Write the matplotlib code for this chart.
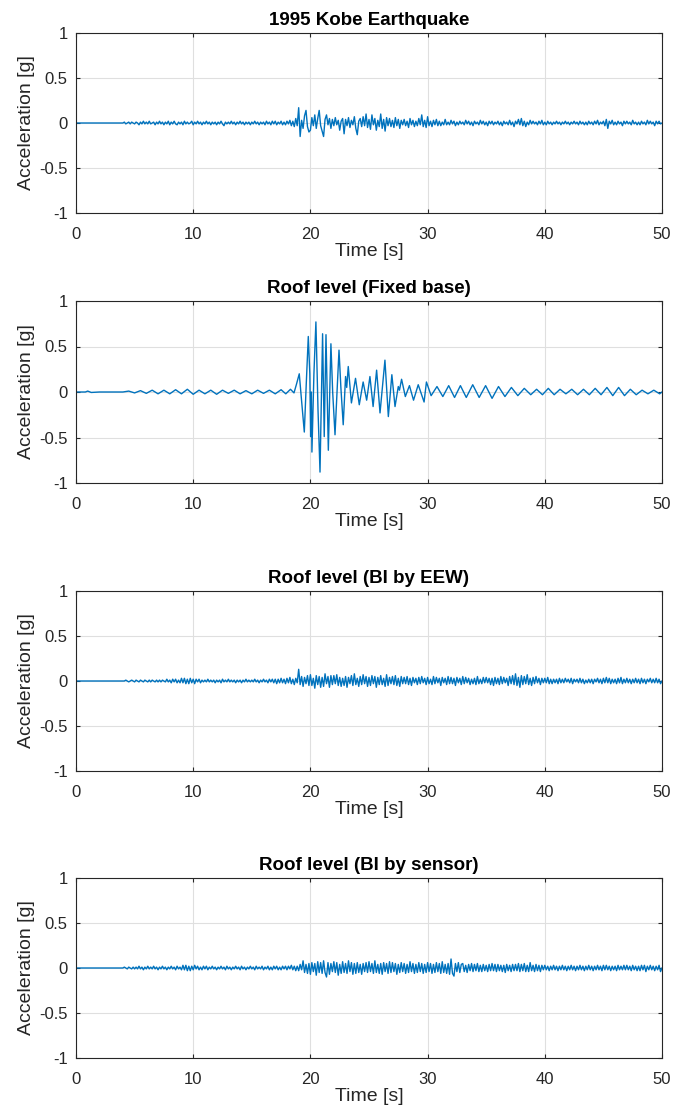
import numpy as np
import matplotlib
matplotlib.use('Agg')
import matplotlib.pyplot as plt

plt.rcParams['font.family'] = ['Liberation Sans', 'DejaVu Sans']

# sampling step (s) for the uniformly sampled records, values in hundredths of g
dt = 0.125

# 1995 Kobe ground motion, one row per second
kobe = [
    0, 0, 0, 0, 0, 0, 0, 0,
    0, 0, 0, 0, 0, 0, 0, 0,
    0, 0, 0, 0, 0, 0, 0, 0,
    0, 0, 0, 0, 0, 0, 0, 0,
    0, 1, -1, 0, 1, -1, 1, 0,
    -1, 1, 0, -2, 1, -1, 2, -1,
    1, -1, 2, -1, 0, 1, -2, 1,
    -1, 2, -1, 1, -2, 1, -1, 2,
    -2, 1, -1, 2, -1, -2, 1, -1,
    1, -2, 2, -1, 1, -1, 0, 2,
    -2, 1, -1, 2, -1, 1, -2, 1,
    -1, 2, -1, 1, -2, 1, -1, 1,
    -2, 1, -1, 2, -1, -3, 1, -1,
    1, -1, 2, -1, 1, -2, 1, -1,
    2, -1, 1, -2, 1, -1, 1, -2,
    1, -1, 2, -1, 1, -2, 1, -1,
    1, -2, 2, -1, 1, -2, 2, -1,
    2, -2, 1, -1, 2, -2, 1, -2,
    2, -1, 3, -3, 2, -4, 5, -3,
    17, -15, 3, -6, 8, 14, -4, -10,
    -8, 6, -3, 9, -6, 5, 14, -3,
    -9, -15, 4, 9, -2, 5, -6, 4,
    -3, 6, -2, 3, -8, 2, 5, -12,
    4, -3, 6, -5, 3, -2, 7, -6,
    -13, 2, 5, -4, 7, -3, 10, -5,
    4, -7, 9, -2, 5, -8, 3, -4,
    10, -6, 4, -9, 6, -3, 5, -4,
    3, -5, 6, -3, 4, -6, 3, -2,
    4, -3, 2, -5, 5, -2, 3, -4,
    2, -3, 5, -2, 9, -4, 3, -5,
    7, -3, 2, -4, 3, -2, 4, -3,
    2, -3, 1, -2, 4, -2, 1, -2,
    3, -1, 2, -3, 1, -2, 2, -1,
    1, -2, 3, -1, 2, -2, 1, -3,
    2, -1, 1, -2, 3, -1, 2, -2,
    1, -3, 2, -1, 2, -2, 1, -1,
    2, -2, 1, -3, 2, -1, 1, -2,
    3, -2, 1, -4, 2, -1, 4, -2,
    5, -3, 2, -4, 1, -2, 3, -1,
    2, -1, 1, -2, 2, -1, 3, -2,
    1, -2, 2, -1, 1, -2, 1, -1,
    2, -1, 1, -2, 1, -1, 2, -1,
    1, -2, 1, -1, 2, -1, 1, -2,
    2, -1, 1, -2, 1, -2, 2, -1,
    1, -2, 2, -1, 3, -2, 1, -1,
    2, -3, 4, -6, 2, -1, 3, -2,
    1, -2, 2, -1, 1, -3, 2, -1,
    2, -1, 1, -2, 3, -1, 1, -2,
    1, -2, 2, -1, 1, -2, 3, -1,
    2, -1, 1, -3, 2, -1, 2, -1,
    0,
]

# roof response, fixed base: turning points (time s, acceleration g)
fixed_t = [0, 0.8, 1.0, 1.3, 2, 4, 4.5, 5.0, 5.5, 6.0, 6.5, 7.0, 7.5, 8.0, 8.5, 9.0,
           9.5, 10.0, 10.5, 11.0, 11.5, 12.0, 12.5, 13.0, 13.5, 14.0, 14.5, 15.0,
           15.5, 16.0, 16.5, 17.0, 17.5, 17.9, 18.3, 18.6, 18.8, 19.05, 19.25, 19.48,
           19.65, 19.82, 19.95, 20.02, 20.08, 20.13, 20.3, 20.47, 20.65, 20.82, 21.04,
           21.18, 21.33, 21.53, 21.75, 21.9, 22.1, 22.44, 22.6, 22.8, 23.0, 23.1,
           23.23, 23.5, 23.85, 24.17, 24.5, 24.8, 25.08, 25.35, 25.65, 25.94, 26.36,
           26.65, 26.95, 27.22, 27.5, 27.6, 27.78, 28.1, 28.45, 28.8, 29.2, 29.7,
           29.9, 30.3, 30.8, 31.3, 31.8, 32.3, 32.8, 33.3, 33.85, 34.4, 34.95, 35.5,
           36.05, 36.6, 37.15, 37.7, 38.25, 38.8, 39.3, 39.8, 40.3, 40.8, 41.3, 41.8,
           42.3, 42.8, 43.3, 43.8, 44.3, 44.8, 45.3, 45.8, 46.3, 46.8, 47.3, 47.8,
           48.3, 48.8, 49.3, 49.8, 50]
fixed_a = [0, 0, 0.01, -0.005, 0, 0, 0.01, -0.01, 0.015, -0.015, 0.02, -0.02, 0.02,
           -0.02, 0.025, -0.02, 0.03, -0.025, 0.02, -0.02, 0.02, -0.025, 0.02, -0.015,
           0.02, -0.02, 0.015, -0.02, 0.02, -0.015, 0.02, -0.02, 0.025, -0.02, 0.03,
           -0.01, 0.08, 0.2, -0.1, -0.44, 0.1, 0.61, 0.2, -0.49, 0.0, -0.66, 0.2,
           0.77, -0.2, -0.88, 0.64, -0.49, 0.63, -0.64, 0.53, 0.0, -0.47, 0.46, 0.05,
           -0.36, 0.17, 0.05, 0.28, -0.12, 0.15, -0.14, 0.11, -0.09, 0.17, -0.16,
           0.24, -0.23, 0.35, -0.27, 0.19, -0.16, 0.06, 0.02, 0.14, -0.05, 0.07,
           -0.09, 0.08, -0.11, 0.11, -0.04, 0.06, -0.05, 0.07, -0.06, 0.07, -0.06,
           0.08, -0.06, 0.07, -0.07, 0.06, -0.05, 0.05, -0.04, 0.04, -0.03, 0.03,
           -0.03, 0.04, -0.03, 0.03, -0.02, 0.03, -0.03, 0.03, -0.03, 0.04, -0.03,
           0.05, -0.04, 0.05, -0.04, 0.03, -0.03, 0.02, -0.02, 0.02, -0.02, 0]

# roof response, base isolation triggered by EEW
eew = [
    0, 0, 0, 0, 0, 0, 0, 0,
    0, 0, 0, 0, 0, 0, 0, 0,
    0, 0, 0, 0, 0, 0, 0, 0,
    0, 0, 0, 0, 0, 0, 0, 0,
    0, 0, 1, 0, -1, 0, 1, 0,
    -1, 1, 0, -1, 1, 0, -1, 1,
    0, -1, 1, -1, 1, 0, -1, 1,
    -1, 1, -1, 1, 0, -1, 2, -1,
    1, -2, 2, -1, 2, -2, 1, -2,
    3, -2, 3, -3, 2, -3, 3, -2,
    2, -3, 2, -1, 2, -2, 1, -1,
    1, -1, 2, -1, 1, -1, 1, -2,
    1, -1, 1, -2, 2, -1, 1, -1,
    2, -1, 1, -1, 1, -2, 1, -1,
    1, -2, 1, -1, 2, -1, 1, -1,
    1, -1, 2, -1, 1, -2, 1, -1,
    2, -1, 1, -2, 2, -1, 2, -2,
    2, -3, 2, -2, 3, -2, 2, -3,
    3, -2, 4, -3, 2, -4, 3, -2,
    13, -4, 5, -6, 4, -3, 6, -5,
    7, -5, 3, -8, 6, -4, 5, -7,
    4, -6, 8, -3, 5, -7, 6, -4,
    6, -3, 7, -5, 4, -6, 3, -5,
    5, -7, 4, -3, 6, -5, 8, -4,
    3, -6, 5, -4, 7, -3, 5, -6,
    4, -5, 6, -3, 5, -7, 4, -4,
    6, -4, 3, -6, 7, -5, 4, -3,
    5, -4, 6, -5, 3, -6, 5, -3,
    4, -3, 5, -4, 3, -5, 4, -2,
    3, -4, 4, -3, 5, -2, 3, -4,
    4, -3, 2, -4, 5, -3, 4, -2,
    3, -5, 4, -2, 3, -4, 5, -3,
    4, -3, 3, -5, 4, -2, 3, -4,
    5, -3, 4, -2, 3, -4, 2, -3,
    3, -4, 5, -3, 2, -3, 4, -2,
    4, -2, 3, -4, 3, -5, 4, -3,
    3, -4, 5, -3, 4, -2, 3, -5,
    5, -3, 6, -4, 8, -5, 4, -7,
    6, -4, 5, -3, 7, -4, 3, -5,
    4, -3, 5, -2, 3, -4, 3, -2,
    3, -2, 4, -3, 2, -3, 2, -2,
    2, -3, 3, -2, 2, -2, 3, -1,
    2, -2, 3, -3, 2, -1, 2, -2,
    3, -2, 2, -3, 1, -2, 2, -2,
    2, -3, 2, -1, 3, -2, 2, -3,
    3, -2, 4, -2, 3, -3, 2, -2,
    2, -3, 3, -2, 4, -3, 2, -2,
    3, -2, 2, -3, 2, -2, 3, -2,
    2, -3, 3, -2, 2, -3, 2, -1,
    3, -2, 2, -2, 3, -2, 2, -3,
    0,
]

# roof response, base isolation triggered by on-site sensor
sensor = [
    0, 0, 0, 0, 0, 0, 0, 0,
    0, 0, 0, 0, 0, 0, 0, 0,
    0, 0, 0, 0, 0, 0, 0, 0,
    0, 0, 0, 0, 0, 0, 0, 0,
    0, 1, 0, -1, 1, 0, -1, 1,
    -1, 1, -1, 2, -1, 1, -2, 1,
    -1, 2, -1, 1, -1, 2, -1, 1,
    -2, 1, -1, 2, -1, 1, -2, 1,
    -1, 2, -1, 1, -2, 2, -1, 1,
    -2, 3, -2, 3, -3, 2, -3, 2,
    -2, 3, -1, 2, -2, 1, -2, 2,
    -1, 2, -2, 1, -1, 2, -1, 1,
    -2, 1, -1, 2, -1, 1, -2, 2,
    -1, 1, -2, 1, -1, 2, -1, 1,
    -2, 2, -1, 1, -2, 1, -1, 2,
    -1, 1, -2, 2, -1, 1, -1, 2,
    -2, 1, -1, 2, -2, 1, -2, 2,
    -1, 2, -2, 1, -2, 2, -1, 2,
    -2, 2, -1, 3, -2, 2, -3, 2,
    -3, 4, -2, 8, -5, 4, -6, 5,
    -7, 6, -4, 5, -8, 7, -5, 6,
    -6, 8, -5, -10, 6, -7, 5, -4,
    7, -5, 6, -8, 4, -6, 7, -5,
    5, -6, 8, -4, 6, -7, 5, -6,
    6, -5, 4, -7, 5, -4, 6, -5,
    7, -4, 5, -6, 8, -5, 4, -6,
    5, -7, 6, -4, 5, -6, 7, -5,
    6, -4, 5, -7, 4, -5, 6, -4,
    5, -6, 4, -5, 7, -4, 5, -6,
    4, -5, 6, -4, 5, -6, 4, -5,
    6, -4, 5, -6, 4, -5, 6, -4,
    5, -6, 7, -5, 4, -6, 5, -7,
    10, -6, -9, 5, -4, 6, -5, 4,
    5, -4, 3, -5, 4, -3, 5, -4,
    4, -3, 5, -4, 3, -4, 4, -3,
    3, -4, 4, -3, 5, -3, 4, -4,
    4, -3, 3, -4, 3, -5, 4, -3,
    3, -4, 4, -3, 4, -3, 5, -4,
    4, -3, 5, -4, 3, -4, 6, -3,
    3, -4, 4, -3, 3, -4, 3, -2,
    3, -2, 2, -3, 2, -2, 3, -2,
    2, -3, 2, -2, 3, -2, 2, -3,
    2, -2, 3, -2, 2, -3, 2, -2,
    3, -2, 2, -3, 2, -2, 3, -2,
    2, -3, 2, -2, 3, -2, 2, -3,
    3, -2, 3, -2, 2, -3, 2, -2,
    2, -3, 3, -2, 2, -2, 3, -2,
    3, -2, 2, -3, 3, -2, 2, -3,
    2, -3, 3, -2, 3, -4, 2, -2,
    3, -2, 2, -3, 2, -2, 3, -4,
    0,
]

titles = ['1995 Kobe Earthquake', 'Roof level (Fixed base)',
          'Roof level (BI by EEW)', 'Roof level (BI by sensor)']

series = [
    (np.arange(len(kobe)) * dt, np.array(kobe) / 100.0),
    (np.array(fixed_t), np.array(fixed_a)),
    (np.arange(len(eew)) * dt, np.array(eew) / 100.0),
    (np.arange(len(sensor)) * dt, np.array(sensor) / 100.0),
]

W, H = 673, 1116
fig = plt.figure(figsize=(W / 100, H / 100), dpi=100)

# axes boxes in pixels: (top, bottom)
boxes = [(33, 213), (301, 483), (591, 771), (878, 1058)]
left, right = 76, 662

for (top, bot), title, (t, a) in zip(boxes, titles, series):
    ax = fig.add_axes([left / W, 1 - bot / H, (right - left) / W, (bot - top) / H])
    ax.plot(t, a, color='#0072BD', lw=1.0)
    ax.set_xlim(0, 50)
    ax.set_ylim(-1, 1)
    ax.set_xticks([0, 10, 20, 30, 40, 50])
    ax.set_yticks([-1, -0.5, 0, 0.5, 1])
    ax.set_yticklabels(['-1', '-0.5', '0', '0.5', '1'])
    ax.grid(True, color='#dfdfdf', lw=0.8)
    ax.set_axisbelow(True)
    ax.tick_params(direction='in', length=3, labelsize=12, colors='#262626',
                   top=True, right=True)
    ax.tick_params(axis='x', pad=10)
    ax.tick_params(axis='y', pad=6)
    for s in ax.spines.values():
        s.set_color('#262626')
        s.set_linewidth(0.8)
    ax.set_title(title, fontsize=13.5, fontweight='bold', color='black', pad=6)
    ax.set_xlabel('Time [s]', fontsize=14, color='#262626', labelpad=1)
    ax.set_ylabel('Acceleration [g]', fontsize=14, color='#262626', labelpad=3)

fig.savefig('out.png', dpi=100)
